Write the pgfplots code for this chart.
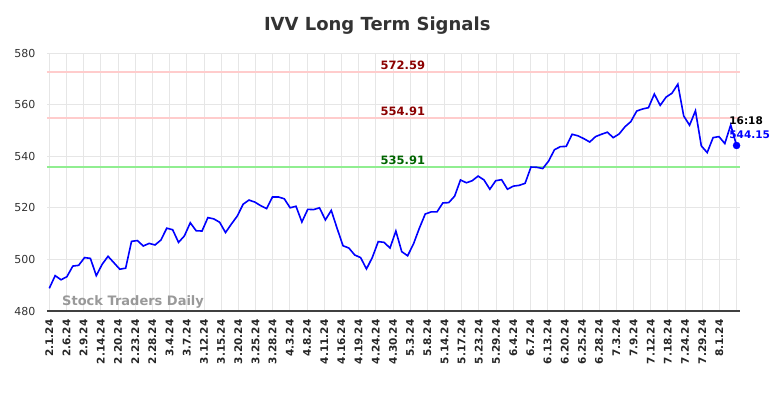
\documentclass[border=0pt]{standalone}
\usepackage{fontspec}
\setmainfont{DejaVu Sans}
\usepackage{pgfplots}
\usepackage{pgfplotstable}
\pgfplotsset{compat=1.18}
\definecolor{gridc}{HTML}{E6E6E6}
\definecolor{lvlred}{HTML}{FFCCCC}
\definecolor{lvlgreen}{HTML}{90EE90}
\definecolor{txtred}{HTML}{8B0000}
\definecolor{txtgreen}{HTML}{006400}
\pgfplotstableread{
x y
0 488.8
1 493.7
2 492.1
3 493.3
4 497.4
5 497.7
6 500.7
7 500.4
8 493.7
9 498.1
10 501.2
11 498.7
12 496.2
13 496.6
14 507.0
15 507.3
16 505.2
17 506.2
18 505.6
19 507.5
20 512.1
21 511.5
22 506.6
23 509.1
24 514.2
25 511.1
26 511.0
27 516.2
28 515.7
29 514.4
30 510.4
31 513.7
32 516.8
33 521.4
34 523.0
35 522.2
36 520.8
37 519.7
38 524.2
39 524.2
40 523.5
41 520.0
42 520.6
43 514.5
44 519.4
45 519.3
46 520.0
47 515.3
48 519.0
49 512.0
50 505.3
51 504.4
52 501.7
53 500.7
54 496.3
55 500.8
56 506.9
57 506.6
58 504.4
59 511.0
60 503.0
61 501.4
62 506.0
63 512.1
64 517.6
65 518.4
66 518.4
67 521.9
68 522.0
69 524.5
70 530.8
71 529.7
72 530.5
73 532.3
74 530.8
75 527.2
76 530.5
77 530.9
78 527.2
79 528.4
80 528.7
81 529.5
82 535.8
83 535.7
84 535.2
85 538.1
86 542.5
87 543.7
88 543.8
89 548.5
90 547.9
91 546.8
92 545.5
93 547.6
94 548.5
95 549.3
96 547.2
97 548.6
98 551.4
99 553.4
100 557.5
101 558.3
102 558.8
103 564.1
104 559.7
105 562.9
106 564.4
107 567.9
108 555.6
109 552.0
110 557.6
111 544.0
112 541.4
113 547.2
114 547.6
115 544.9
116 552.1
117 544.15
}\ivv
\begin{document}
\begin{tikzpicture}
\useasboundingbox (-47pt,-87pt) rectangle (737pt,311pt);
\begin{axis}[
  at={(0pt,0pt)}, anchor=south west,
  scale only axis, width=692.5pt, height=258pt,
  xmin=-0.39, xmax=117.5, ymin=480, ymax=580,
  ytick={480,500,520,540,560,580},
  xtick={0,2.925,5.85,8.775,11.7,14.625,17.55,20.475,23.4,26.325,29.25,32.175,35.1,38.025,40.95,43.875,46.8,49.725,52.65,55.575,58.5,61.425,64.35,67.275,70.2,73.125,76.05,78.975,81.9,84.825,87.75,90.675,93.6,96.525,99.45,102.375,105.3,108.225,111.15,114.075,117},
  xticklabels={2.1.24,2.6.24,2.9.24,2.14.24,2.20.24,2.23.24,2.28.24,3.4.24,3.7.24,3.12.24,3.15.24,3.20.24,3.25.24,3.28.24,4.3.24,4.8.24,4.11.24,4.16.24,4.19.24,4.24.24,4.30.24,5.3.24,5.8.24,5.14.24,5.17.24,5.23.24,5.29.24,6.4.24,6.7.24,6.13.24,6.20.24,6.25.24,6.28.24,7.3.24,7.9.24,7.12.24,7.18.24,7.24.24,7.29.24,8.1.24},
  /pgf/number format/assume math mode=true,
  xticklabel shift=5pt,
  xticklabel style={rotate=90, anchor=east, font=\bfseries\fontsize{10.5}{12}\selectfont, text=black!85},
  yticklabel style={font=\fontsize{11}{13}\selectfont, text=black!80, xshift=-8pt},
  grid=major, major grid style={gridc, line width=0.8pt},
  major tick length=0pt,
  axis x line=bottom, axis y line=left,
  x axis line style={-, draw=black!75, line width=1.2pt},
  y axis line style={draw=none},
  clip=false,
]
\addplot[lvlred, line width=1.8pt, forget plot] coordinates {(-0.39,572.59) (117.5,572.59)};
\addplot[lvlred, line width=1.8pt, forget plot] coordinates {(-0.39,554.91) (117.5,554.91)};
\addplot[lvlgreen, line width=1.8pt, forget plot] coordinates {(-0.39,535.91) (117.5,535.91)};
\node[anchor=south, font=\bfseries\fontsize{11.5}{13}\selectfont, text=txtred, inner sep=2pt] at (axis cs:60.2,572.59) {572.59};
\node[anchor=south, font=\bfseries\fontsize{11.5}{13}\selectfont, text=txtred, inner sep=2pt] at (axis cs:60.2,554.91) {554.91};
\node[anchor=south, font=\bfseries\fontsize{11.5}{13}\selectfont, text=txtgreen, inner sep=2pt] at (axis cs:60.2,535.91) {535.91};
\node[anchor=west, font=\bfseries\fontsize{13}{15}\selectfont, text=black!40, inner sep=0pt] at (axis cs:2.16,483.5) {Stock Traders Daily};
\addplot[blue, line width=1.6pt, mark=none] table[x=x,y=y] {\ivv};
\addplot[blue, only marks, mark=*, mark size=3.5pt] coordinates {(117,544.15)};
\node[anchor=west, font=\bfseries\fontsize{10.5}{12}\selectfont, text=black, inner sep=0pt] at (axis cs:115.75,553.6) {16:18};
\node[anchor=west, font=\bfseries\fontsize{10.5}{12}\selectfont, text=blue, inner sep=0pt] at (axis cs:115.75,548.2) {544.15};
\node[font=\bfseries\fontsize{18}{21}\selectfont, text=black!80] at (rel axis cs:0.5,1) [yshift=27pt, xshift=-16pt] {IVV Long Term Signals};
\end{axis}
\end{tikzpicture}
\end{document}
